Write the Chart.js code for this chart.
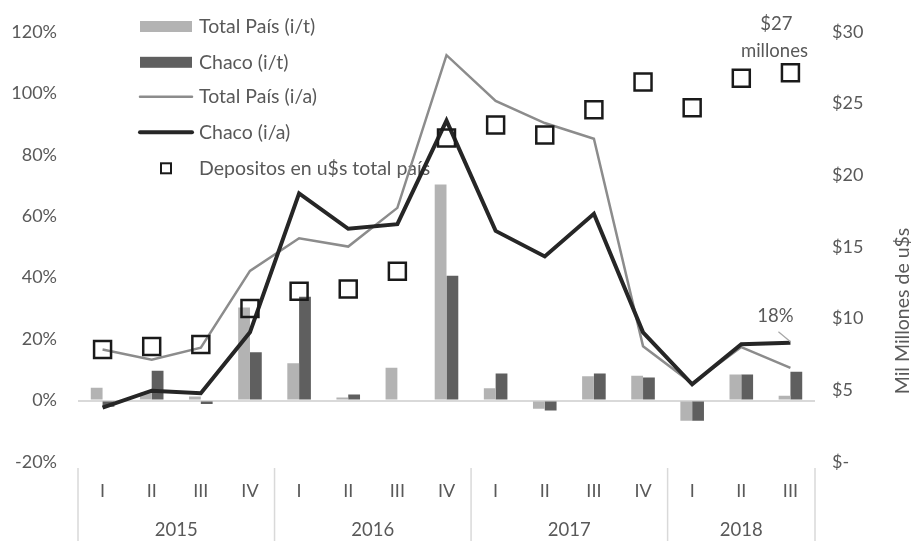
<!DOCTYPE html>
<html>
<head>
<meta charset="utf-8">
<script src="https://cdn.jsdelivr.net/npm/chart.js@4.4.1/dist/chart.umd.min.js"></script>
<style>
  body{margin:0;background:#fff;}
  #wrap{width:915px;height:541px;}
</style>
</head>
<body>
<div id="wrap"><canvas id="chart" width="915" height="541"></canvas></div>
<script>
// datos
let quarters = ["I","II","III","IV","I","II","III","IV","I","II","III","IV","I","II","III"];
let years = ["2015","2016","2017","2018"];
let quartersPerYear = [4,4,4,3];
let totalPaisIT = [4.2, 2.5, 1.3, 30.3, 12.1, 1.0, 10.7, 70.3, 4.0, -2.7, 7.9, 8.1, -6.6, 8.5, 1.6];
let chacoIT = [-2.0, 9.7, -1.1, 15.7, 33.8, 2.0, -0.3, 40.6, 8.8, -3.2, 8.8, 7.5, -6.6, 8.5, 9.4];
let totalPaisIA = [16.6, 13.3, 17.2, 42.2, 52.8, 50.1, 62.7, 112.4, 97.5, 90.3, 85.2, 17.7, 5.6, 17.4, 10.6];
let chacoIA = [-2.3, 3.2, 2.4, 22.2, 67.4, 55.9, 57.4, 91.1, 55.2, 46.9, 60.8, 22.2, 5.3, 18.3, 18.8];
let depositos = [7.85, 8.06, 8.2, 10.7, 11.9, 12.06, 13.3, 22.6, 23.5, 22.8, 24.56, 26.5, 24.7, 26.76, 27.15];
let pctTicks = [-20, 0, 20, 40, 60, 80, 100, 120];
let usdTicks = [0, 5, 10, 15, 20, 25, 30];
let chacoLastLabel = "18%";
let depositosLastLabel = ["$27", "millones"];

let txtColor = "#595959";
let fontFam = "Lato, 'Liberation Sans', sans-serif";

// leyenda dentro del area del grafico
let legendPlugin = {
  id:"customLegend",
  beforeDatasetsDraw(chart){
    let ctx = chart.ctx;
    let rows = [26.5, 62.3, 96.7, 132.3, 168.3];
    ctx.save();
    ctx.font = "19.5px " + fontFam;
    ctx.textBaseline = "middle";
    ctx.textAlign = "left";
    chart.data.datasets.forEach((ds,i)=>{
      let y = rows[i];
      if(ds.type==="bar"){
        ctx.fillStyle = ds.backgroundColor;
        ctx.fillRect(140, y-5.5, 52, 11);
      } else if(ds.showLine===false){
        ctx.strokeStyle = ds.borderColor;
        ctx.lineWidth = 2;
        ctx.strokeRect(161, y-5, 10, 10);
      } else {
        ctx.strokeStyle = ds.borderColor;
        ctx.lineWidth = ds.borderWidth;
        ctx.lineCap = "round";
        ctx.beginPath(); ctx.moveTo(140, y); ctx.lineTo(192, y); ctx.stroke();
      }
      ctx.fillStyle = txtColor;
      ctx.fillText(ds.label, 199, y);
    });
    ctx.restore();
  }
};

// años, separadores, anotaciones y titulo del eje derecho
let extrasPlugin = {
  id:"extras",
  afterDraw(chart){
    let ctx = chart.ctx;
    let xs = chart.scales.x;
    let yl = chart.scales.y;
    let yr = chart.scales.y2;
    let step = xs.getPixelForValue(1) - xs.getPixelForValue(0);
    ctx.save();
    ctx.strokeStyle = "#d9d9d9";
    ctx.lineWidth = 1.5;
    ctx.fillStyle = txtColor;
    ctx.font = "18.5px " + fontFam;
    ctx.textAlign = "center";
    ctx.textBaseline = "middle";
    let idx = 0;
    years.forEach((yr_,k)=>{
      let n = quartersPerYear[k];
      let left = xs.getPixelForValue(idx) - step/2;
      let right = xs.getPixelForValue(idx+n-1) + step/2;
      ctx.beginPath(); ctx.moveTo(left, 468); ctx.lineTo(left, 541); ctx.stroke();
      if(k===years.length-1){
        ctx.beginPath(); ctx.moveTo(right, 468); ctx.lineTo(right, 541); ctx.stroke();
      }
      ctx.fillText(yr_, (left+right)/2, 530.5);
      idx += n;
    });

    // etiqueta 18%
    let last = chacoIA.length-1;
    let px = xs.getPixelForValue(last);
    let py = yl.getPixelForValue(chacoIA[last]);
    ctx.fillText(chacoLastLabel, px-15, py-27);
    ctx.strokeStyle = "#a6a6a6";
    ctx.lineWidth = 1.2;
    ctx.beginPath(); ctx.moveTo(px-12, py-11); ctx.lineTo(px, py-1); ctx.stroke();

    // etiqueta $27 millones
    let dy = yr.getPixelForValue(depositos[last]);
    ctx.fillText(depositosLastLabel[0], px-14, dy-49);
    ctx.fillText(depositosLastLabel[1], px-16, dy-22);

    // titulo eje derecho
    ctx.font = "19.5px " + fontFam;
    ctx.translate(903, 311);
    ctx.rotate(-Math.PI/2);
    ctx.fillText("Mil Millones de u$s", 0, 0);
    ctx.restore();
  }
};

let ctx = document.getElementById("chart").getContext("2d");
new Chart(ctx,{
  type:"bar",
  data:{
    labels:quarters,
    datasets:[
      {type:"bar", label:"Total País (i/t)", data:totalPaisIT, backgroundColor:"#b3b3b3", yAxisID:"y", order:3,
        barPercentage:1, categoryPercentage:0.48},
      {type:"bar", label:"Chaco (i/t)", data:chacoIT, backgroundColor:"#5f5f5f", yAxisID:"y", order:3,
        barPercentage:1, categoryPercentage:0.48},
      {type:"line", label:"Total País (i/a)", data:totalPaisIA, borderColor:"#8c8c8c", borderWidth:2.5, pointRadius:0, tension:0, yAxisID:"y", order:2},
      {type:"line", label:"Chaco (i/a)", data:chacoIA, borderColor:"#262626", borderWidth:4, pointRadius:0, tension:0, yAxisID:"y", order:1},
      {type:"line", label:"Depositos en u$s total país", data:depositos, showLine:false, borderColor:"#1a1a1a", backgroundColor:"rgba(0,0,0,0)",
        pointStyle:"rect", pointRadius:12, pointBorderWidth:2.5, yAxisID:"y2", order:0}
    ]
  },
  options:{
    responsive:false,
    animation:false,
    devicePixelRatio:1,
    layout:{padding:{top:30, left:0, right:0, bottom:0}},
    plugins:{legend:{display:false}, tooltip:{enabled:false}},
    scales:{
      x:{
        offset:true,
        grid:{display:false, drawTicks:false},
        border:{display:false},
        ticks:{color:txtColor, font:{family:fontFam, size:18}, padding:18, maxRotation:0, autoSkip:false},
        afterFit:s=>{ s.height = 79; }
      },
      y:{
        position:"left",
        min:-20, max:120,
        afterBuildTicks:s=>{ s.ticks = pctTicks.map(v=>({value:v})); },
        grid:{drawTicks:false, lineWidth:2, color:c=>c.tick && c.tick.value===0 ? "#d9d9d9" : "rgba(0,0,0,0)"},
        border:{display:false},
        ticks:{color:txtColor, font:{family:fontFam, size:18}, padding:21, callback:v=>v+"%"},
        afterFit:s=>{ s.width = 78; }
      },
      y2:{
        position:"right",
        min:0, max:30,
        afterBuildTicks:s=>{ s.ticks = usdTicks.map(v=>({value:v})); },
        grid:{display:false, drawTicks:false},
        border:{display:false},
        ticks:{color:txtColor, font:{family:fontFam, size:18}, padding:17, callback:v=>v===0 ? "$-" : "$"+v},
        afterFit:s=>{ s.width = 100; }
      }
    }
  },
  plugins:[legendPlugin, extrasPlugin]
});
</script>
</body>
</html>
